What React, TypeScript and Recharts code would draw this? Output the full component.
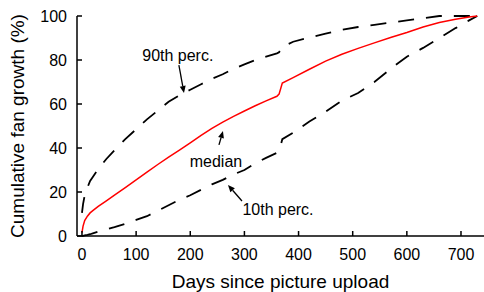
import { LineChart, Line, XAxis, YAxis, ReferenceLine, ReferenceDot, Label } from 'recharts'

// values (days since upload -> cumulative %)
const days = [0, 2, 5, 10, 15, 20, 30, 45, 60, 80, 100, 120, 140, 160, 180, 200, 220, 240, 260, 280, 300, 320, 340, 360, 364, 370, 390, 420, 450, 480, 510, 540, 570, 600, 630, 660, 690, 715, 730]
const median = [1.5, 4.5, 7, 9, 10.5, 11.5, 13.5, 16, 18.6, 22, 25.5, 29, 32.5, 35.8, 39, 42.3, 45.7, 48.9, 51.8, 54.4, 56.8, 59.2, 61.4, 63.5, 64.5, 69.5, 72, 75.8, 79.5, 82.6, 85.3, 87.8, 90.2, 92.5, 95, 97, 98.5, 99.5, 100]
const p90 = [10.5, 14.5, 18.5, 22, 25, 26.8, 30.5, 35, 39, 44, 48.5, 53, 57, 61, 64, 66.5, 69, 71.5, 73.5, 76, 78, 80, 81.5, 83, 83.5, 86, 88.3, 90.2, 92, 93.7, 95, 96, 97, 98, 99, 100, 100, 100, 100]
const p10 = [0, 0.1, 0.3, 0.5, 0.8, 1.2, 2, 3, 4, 5.5, 7.3, 9, 11.5, 14, 16.5, 18.5, 21, 23.5, 25.5, 28, 30, 33, 35.5, 37.8, 38.5, 44, 47, 52, 56.5, 61.5, 65, 70, 76, 81.5, 85.5, 90, 94.5, 98, 100]

const xTicks = [0, 100, 200, 300, 400, 500, 600, 700]
const yTicks = [0, 20, 40, 60, 80, 100]

// annotation text anchor + arrow (in data units)
const notes = [
  { text: '90th perc.', at: [177, 79.5], from: [179, 77.7], to: [188.4, 65] },
  { text: 'median', at: [247.5, 31.4], from: [253, 41.4], to: [260.4, 47.7] },
  { text: '10th perc.', at: [362, 9.5], from: [295.5, 15.9], to: [269.7, 23.2] },
]

const data = days.map((d, i) => ({ day: d, median: median[i], p90: p90[i], p10: p10[i] }))

const FONT = '"Liberation Sans", Arial, Helvetica, sans-serif'

const XTick = (props: any) => {
  const { x, y, payload } = props
  return (
    <g>
      <line x1={x} y1={y} x2={x} y2={y - 5} stroke="#000" strokeWidth={1.5} />
      <text x={x} y={y + 24} textAnchor="middle" fontSize={16} fontFamily={FONT} fill="#000">
        {payload.value}
      </text>
    </g>
  )
}

const YTick = (props: any) => {
  const { x, y, payload } = props
  return (
    <g>
      <line x1={x} y1={y} x2={x + 5} y2={y} stroke="#000" strokeWidth={1.5} />
      <text x={x - 10} y={y + 6} textAnchor="end" fontSize={16} fontFamily={FONT} fill="#000">
        {payload.value}
      </text>
    </g>
  )
}

const Arrow = (props: any) => {
  const { x1, y1, x2, y2 } = props
  const a = Math.atan2(y2 - y1, x2 - x1)
  const len = 7
  const w = 3
  const bx = x2 - len * Math.cos(a)
  const by = y2 - len * Math.sin(a)
  const pts = `${x2},${y2} ${bx - w * Math.sin(a)},${by + w * Math.cos(a)} ${bx + w * Math.sin(a)},${by - w * Math.cos(a)}`
  return (
    <g>
      <line x1={x1} y1={y1} x2={bx} y2={by} stroke="#000" strokeWidth={1.3} />
      <polygon points={pts} fill="#000" />
    </g>
  )
}

export default function App() {
  return (
    <div style={{ position: 'absolute', left: 0, top: 0, width: 484, height: 292, background: '#fff' }}>
      <LineChart width={484} height={292} data={data} margin={{ top: 16, right: 0, bottom: 0, left: 0 }}>
        <XAxis
          dataKey="day"
          type="number"
          domain={[-9.2, 742.5]}
          allowDataOverflow
          ticks={xTicks}
          height={56}
          tickSize={0}
          tickMargin={0}
          tickLine={false}
          tick={<XTick />}
          axisLine={{ stroke: '#000', strokeWidth: 1.5 }}
        >
          <Label
            content={({ viewBox }: any) => (
              <text x={viewBox.x + viewBox.width / 2} y={viewBox.y + 52} textAnchor="middle" fontSize={19} fontFamily={FONT} fill="#000">
                Days since picture upload
              </text>
            )}
          />
        </XAxis>
        <YAxis
          type="number"
          domain={[0, 100]}
          ticks={yTicks}
          width={77}
          tickSize={0}
          tickMargin={0}
          tickLine={false}
          tick={<YTick />}
          axisLine={{ stroke: '#000', strokeWidth: 1.5 }}
        >
          <Label
            content={({ viewBox }: any) => {
              const cx = 24
              const cy = viewBox.y + viewBox.height / 2
              return (
                <text x={cx} y={cy} transform={`rotate(-90, ${cx}, ${cy})`} textAnchor="middle" fontSize={19} fontFamily={FONT} fill="#000">
                  Cumulative fan growth (%)
                </text>
              )
            }}
          />
        </YAxis>
        <Line type="linear" dataKey="p90" stroke="#000" strokeWidth={1.8} strokeDasharray="16 12" dot={false} isAnimationActive={false} />
        <Line type="linear" dataKey="p10" stroke="#000" strokeWidth={1.8} strokeDasharray="16 12" dot={false} isAnimationActive={false} />
        <Line type="linear" dataKey="median" stroke="#ff0000" strokeWidth={1.5} dot={false} isAnimationActive={false} />
        {notes.map((n) => (
          <ReferenceLine
            key={n.text + '-arrow'}
            segment={[{ x: n.from[0], y: n.from[1] }, { x: n.to[0], y: n.to[1] }]}
            ifOverflow="visible"
            shape={<Arrow />}
          />
        ))}
        {notes.map((n) => (
          <ReferenceDot
            key={n.text}
            x={n.at[0]}
            y={n.at[1]}
            r={0}
            ifOverflow="visible"
            shape={(p: any) => (
              <text x={p.cx} y={p.cy} textAnchor="middle" fontSize={16} fontFamily={FONT} fill="#000">
                {n.text}
              </text>
            )}
          />
        ))}
      </LineChart>
    </div>
  )
}
